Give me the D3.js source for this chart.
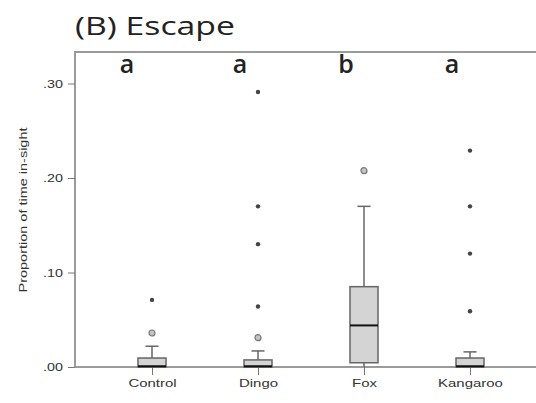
<!DOCTYPE html>
<html>
<head>
<meta charset="utf-8">
<script src="https://cdn.jsdelivr.net/npm/d3@7"></script>
<style>
  body { margin: 0; background: #fff; }
  svg { display: block; }
</style>
</head>
<body>
<div id="chart"></div>
<script>
// groups and the significance letters above them
const categories = ["Control", "Dingo", "Fox", "Kangaroo"];
const letters = ["a", "a", "b", "a"];

// box plot summaries (proportion of time in-sight)
const q1 = [0.0, 0.0, 0.0045, 0.0];
const medians = [0.0008, 0.0008, 0.044, 0.0008];
const q3 = [0.0095, 0.0075, 0.085, 0.0095];
const whiskerLow = [0.0, 0.0, 0.0, 0.0];
const whiskerHigh = [0.022, 0.017, 0.17, 0.016];

// outliers (circles) and extreme values (stars)
const outliers = [[0.036], [0.031], [0.2077], []];
const extremes = [[0.071], [0.064, 0.13, 0.17, 0.291], [], [0.059, 0.12, 0.17, 0.229]];

const yTicks = [0, 0.1, 0.2, 0.3];

const width = 536, height = 403;
const stretch = 1.3; // the source image is wider than it is tall

const svg = d3.select("#chart")
  .append("svg")
  .attr("width", width)
  .attr("height", height);

const x = d3.scalePoint()
  .domain(categories)
  .range([152, 470]);

const y = d3.scaleLinear()
  .domain([0, 0.3])
  .range([367, 83.5]);

const axisColor = "#9a9a9a";

// title
svg.append("text")
  .attr("transform", "translate(75,35) scale(" + stretch + ",1)")
  .style("font-family", "'Open Sans', sans-serif")
  .style("font-size", "26px")
  .style("fill", "#222")
  .text("(B) Escape");

// top frame line
svg.append("line")
  .attr("x1", 74).attr("x2", width)
  .attr("y1", 52).attr("y2", 52)
  .attr("stroke", axisColor).attr("stroke-width", 2);

// y axis
const yAxis = svg.append("g")
  .attr("transform", "translate(75,0)")
  .call(d3.axisLeft(y)
    .tickValues(yTicks)
    .tickSize(7)
    .tickPadding(2)
    .tickFormat(d => d3.format(".2f")(d).replace(/^0/, "")));
yAxis.select(".domain")
  .attr("d", "M0," + y(0) + "V52")
  .attr("stroke", axisColor).attr("stroke-width", 2);
yAxis.selectAll(".tick line").attr("stroke", "#777");
yAxis.selectAll(".tick text")
  .attr("transform", "scale(" + stretch + ",1)")
  .attr("x", -12 / stretch)
  .style("font-family", "Arial, 'Liberation Sans', sans-serif")
  .style("font-size", "11px")
  .style("fill", "#333");

// y axis title
svg.append("text")
  .attr("transform", "translate(27,210) rotate(-90)")
  .attr("text-anchor", "middle")
  .attr("textLength", 165)
  .attr("lengthAdjust", "spacingAndGlyphs")
  .style("font-family", "Arial, 'Liberation Sans', sans-serif")
  .style("font-size", "11px")
  .style("fill", "#333")
  .text("Proportion of time in-sight");

// x axis baseline with ticks
const xAxis = svg.append("g")
  .attr("transform", "translate(0," + y(0) + ")")
  .call(d3.axisBottom(x).tickSize(8).tickPadding(4).tickSizeOuter(0));
xAxis.select(".domain")
  .attr("d", "M75,0H" + width)
  .attr("stroke", axisColor).attr("stroke-width", 2);
xAxis.selectAll(".tick line").attr("stroke", "#777");
xAxis.selectAll(".tick text")
  .attr("transform", "scale(" + stretch + ",1)")
  .attr("y", 20)
  .attr("dy", 0)
  .style("font-family", "Arial, 'Liberation Sans', sans-serif")
  .style("font-size", "11.5px")
  .style("fill", "#333");

const boxW = 28, capW = 13;
const groups = svg.append("g").selectAll("g")
  .data(categories)
  .join("g")
  .attr("transform", d => "translate(" + x(d) + ",0)");

// whisker lines
groups.append("line")
  .attr("y1", (d, i) => y(q3[i]))
  .attr("y2", (d, i) => y(whiskerHigh[i]))
  .attr("stroke", "#666").attr("stroke-width", 1.5);
groups.append("line")
  .attr("y1", (d, i) => y(q1[i]))
  .attr("y2", (d, i) => y(whiskerLow[i]))
  .attr("stroke", "#666").attr("stroke-width", 1.5);
groups.append("line")
  .attr("x1", -capW / 2).attr("x2", capW / 2)
  .attr("y1", (d, i) => y(whiskerHigh[i]))
  .attr("y2", (d, i) => y(whiskerHigh[i]))
  .attr("stroke", "#666").attr("stroke-width", 1.5);

// boxes
groups.append("rect")
  .attr("x", -boxW / 2)
  .attr("width", boxW)
  .attr("y", (d, i) => y(q3[i]))
  .attr("height", (d, i) => Math.max(y(q1[i]) - y(q3[i]), 1))
  .attr("fill", "#d4d4d4")
  .attr("stroke", "#666").attr("stroke-width", 1.5);

// medians
groups.append("line")
  .attr("x1", -boxW / 2).attr("x2", boxW / 2)
  .attr("y1", (d, i) => y(medians[i]))
  .attr("y2", (d, i) => y(medians[i]))
  .attr("stroke", "#111").attr("stroke-width", 2);

// outlier circles
groups.selectAll(".outlier")
  .data((d, i) => outliers[i])
  .join("circle")
  .attr("class", "outlier")
  .attr("cy", d => y(d))
  .attr("r", 3)
  .attr("fill", "#c4c4c4")
  .attr("stroke", "#777").attr("stroke-width", 1.2);

// extreme values
groups.selectAll(".extreme")
  .data((d, i) => extremes[i])
  .join("circle")
  .attr("class", "extreme")
  .attr("cy", d => y(d))
  .attr("r", 2.2)
  .attr("fill", "#444");

// significance letters
svg.append("g").selectAll("text")
  .data(categories)
  .join("text")
  .attr("x", (d, i) => x(d) - (i === 0 ? 25 : 18))
  .attr("y", 73)
  .attr("text-anchor", "middle")
  .style("font-family", "'Open Sans', sans-serif")
  .style("font-size", "25px")
  .style("font-weight", 600)
  .style("fill", "#222")
  .text((d, i) => letters[i]);
</script>
</body>
</html>
